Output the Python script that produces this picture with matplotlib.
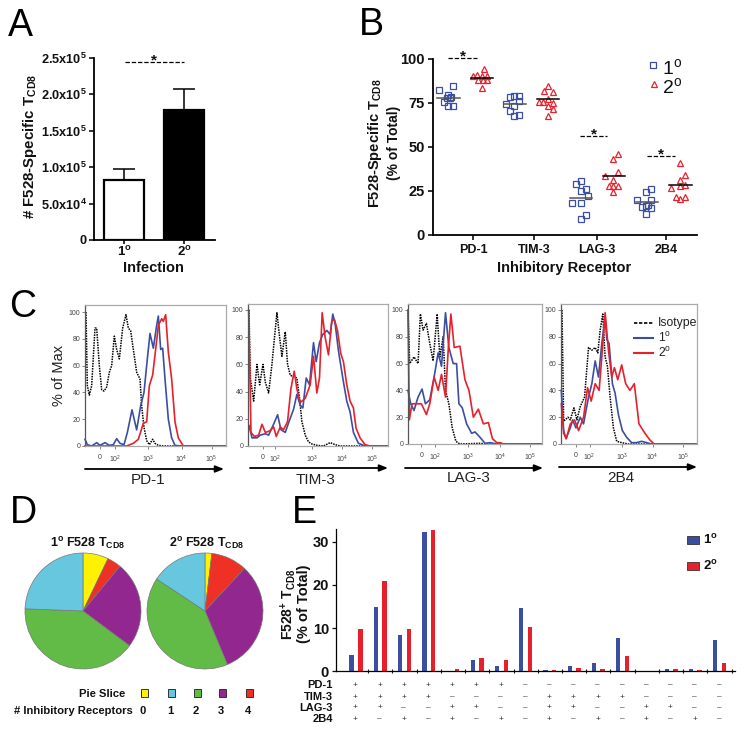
import matplotlib
matplotlib.use("Agg")
import matplotlib.pyplot as plt
from matplotlib.patches import Rectangle

plt.rcParams.update({
    'font.family': ['Liberation Sans', 'DejaVu Sans'],
    'mathtext.fontset': 'custom',
    'mathtext.rm': 'Liberation Sans',
    'mathtext.bf': 'Liberation Sans:bold',
    'mathtext.it': 'Liberation Sans',
    'mathtext.default': 'regular',
})

W, H = 745, 732
BLUE, RED = '#3B4FA2', '#E8202C'

# ---------- Panel A ----------
a_labels = ['1', '2']
a_vals = [82000, 178000]
a_errs = [15000, 30000]
a_yticks = [0, 50000, 100000, 150000, 200000, 250000]
a_yticklabels = ['0', r'$\mathbf{5.0x10^{4}}$', r'$\mathbf{1.0x10^{5}}$', r'$\mathbf{1.5x10^{5}}$',
                 r'$\mathbf{2.0x10^{5}}$', r'$\mathbf{2.5x10^{5}}$']

# ---------- Panel B ----------
b_cats = ['PD-1', 'TIM-3', 'LAG-3', '2B4']
b_tick_pos = [0.12, 1.04, 1.99, 3.04]
b_blue = [[82.2, 84.5, 79.5, 75.6, 77.5, 77.5, 73.1, 73.1, 78.4],
          [74.2, 78, 79, 79, 76.1, 73.3, 70.3, 67.4, 68],
          [30.5, 28.6, 25, 25.8, 17.8, 17.8, 11.4, 9.1, 22],
          [25.8, 24, 20, 20, 15.9, 16.3, 15, 11.6, 16.9]]
b_blue_jit = [[-28, 14, -1, -13, -6, 4, 14, -1, 6],
              [-27, -14, -1, 14, 14, -1, -14, -1, 14],
              [0, -14, 1, 15, -27, 0, 15, 0, 20],
              [13, -2, -29, 11, -15, -2, 13, -2, 3]]
b_red = [[94.1, 90.3, 90.7, 90.2, 90.2, 87.9, 87.9, 87.9, 83.5],
         [84.5, 81.8, 81.1, 75.4, 75.4, 77.3, 75, 73.1, 71.4, 67.6],
         [46, 43, 35.8, 33.3, 31, 27.8, 27.8, 27.8, 24.4],
         [40.5, 33.9, 31.2, 26.3, 27.7, 28.2, 21.6, 21.6, 20.1]]
b_red_jit = [[7, -28, -14, 1, 14, -11, 4, 16, 1],
             [0, -13, 15, -28, -15, 0, 15, 0, 15, 0],
             [11, -3, 11, -29, -3, -16, -3, 11, -3],
             [-1, 13, -1, -28, -1, 13, -14, 13, -1]]
b_blue_mean = [77.7, 74.2, 21, 18.3]
b_red_mean = [89.3, 76.9, 33.3, 28]

# ---------- Panel C (x = channel, y = % of max) ----------
c1_k = [(258,100),(262,45),(268,38),(275,45),(285,88),(290,88),(298,60),(305,42),(312,41),(320,44),(328,55),(335,60),(343,82),(350,72),(358,65),(368,88),(378,98),(385,88),(392,86),(400,72),(410,55),(420,50),(425,30),(432,14),(440,4),(448,1),(458,5),(465,2),(475,0.5),(490,0),(678,0)]
c1_b = [(255,5),(262,1),(275,0),(290,2.5),(300,0.5),(315,2.5),(328,0.5),(340,1),(350,5.5),(360,2),(372,1),(382,10),(396,27),(410,12),(422,30),(432,40),(442,65),(450,84),(460,73),(470,90),(475,97),(482,72),(488,73),(495,50),(505,20),(515,6),(525,0.5),(540,0),(678,0)]
c1_r = [(255,0),(380,0),(400,2),(415,5),(430,17),(440,18),(448,45),(458,53),(466,70),(475,90),(485,95),(490,93),(497,98),(505,70),(515,50),(525,18),(535,6),(550,0),(678,0)]
c2_k = [(746,100),(750,50),(760,33),(770,60),(778,45),(788,60),(795,47),(805,39),(815,60),(822,78),(830,98),(838,80),(845,66),(855,84),(862,60),(870,52),(880,51),(890,50),(898,35),(905,18),(915,8),(925,3),(935,1.5),(950,0.5),(970,0),(990,2.5),(1005,1),(1020,0),(1164,0)]
c2_b = [(746,15),(755,6),(770,6),(780,8),(795,9),(805,8),(820,16),(832,23),(842,12),(855,10),(865,17),(880,27),(890,38),(900,30),(908,28),(918,50),(928,45),(940,76),(948,62),(958,76),(968,82),(980,85),(990,82),(998,97),(1005,90),(1015,70),(1028,50),(1040,33),(1050,25),(1060,10),(1075,2),(1090,0.5),(1100,0),(1164,0)]
c2_r = [(745,100),(752,10),(762,7),(775,8),(785,16),(795,10),(808,11),(820,14),(828,7),(840,14),(850,12),(862,18),(872,42),(882,55),(890,42),(900,32),(915,35),(930,45),(940,66),(950,39),(958,50),(966,98),(975,80),(985,67),(995,92),(1003,93),(1012,85),(1022,68),(1030,62),(1040,45),(1050,33),(1060,28),(1068,13),(1080,6),(1095,1),(1110,0),(1164,0)]
c3_k = [(100,100),(105,60),(118,65),(130,60),(137,97),(145,85),(155,90),(165,75),(175,62),(187,97),(195,65),(205,80),(212,40),(222,30),(232,12),(243,2),(255,0),(315,0.5),(340,0),(500,0)]
c3_b = [(100,40),(108,30),(118,25),(130,35),(142,41),(152,30),(165,33),(178,50),(190,68),(200,58),(212,98),(222,72),(235,60),(245,60),(252,30),(262,27),(275,15),(290,8),(300,9),(315,5),(330,0.5),(345,1),(365,0),(500,0)]
c3_r = [(100,100),(104,18),(112,30),(125,30),(140,30),(155,22),(165,30),(178,50),(190,40),(200,52),(212,35),(220,70),(228,97),(238,72),(255,73),(270,48),(282,40),(295,20),(310,26),(325,15),(340,16),(352,4),(365,1),(375,1),(385,0),(500,0)]
c4_k = [(560,100),(565,17),(578,20),(585,18),(596,27),(605,18),(615,28),(628,35),(640,72),(650,70),(660,72),(668,68),(675,85),(683,97),(690,65),(697,58),(705,35),(715,12),(725,2),(740,1),(760,0),(967,0)]
c4_b = [(558,40),(565,10),(572,4),(585,12),(592,18),(602,12),(615,20),(625,15),(640,35),(650,45),(660,62),(670,50),(680,75),(690,95),(695,78),(702,75),(712,45),(720,38),(730,22),(742,10),(755,5),(770,1),(785,1),(800,2),(815,1),(830,0),(967,0)]
c4_r = [(558,30),(565,8),(573,4),(585,15),(598,18),(610,10),(625,20),(637,42),(648,32),(660,45),(672,40),(680,65),(690,98),(700,70),(710,50),(718,57),(728,48),(740,59),(752,45),(765,40),(778,45),(792,15),(810,8),(825,3),(838,0),(967,0)]
c_tick_labels = ['0', '$10^{2}$', '$10^{3}$', '$10^{4}$', '$10^{5}$']
c_tick_pos = [[300, 345, 445, 545, 635], [787, 825, 935, 1025, 1115],
              [140, 182, 280, 375, 465], [602, 643, 740, 833, 925]]
c_xlims = [(255, 678), (743, 1164), (100, 500), (557, 967)]
c_names = ['PD-1', 'TIM-3', 'LAG-3', '2B4']

# ---------- Panel D ----------
d_colors = ['#FFF200', '#EE3124', '#92278F', '#62BB46', '#66C7DE']
d_pie1 = [7.1, 3.9, 24.2, 40.4, 24.4]
d_pie2 = [1.9, 10.0, 31.8, 40.6, 15.7]
d_legend_colors = ['#FFF200', '#66C7DE', '#62BB46', '#92278F', '#EE3124']
d_legend_labels = ['0', '1', '2', '3', '4']

# ---------- Panel E ----------
e_blue = [3.7, 15, 8.4, 32.2, 0, 2.7, 1.3, 14.7, 0.3, 1.3, 1.9, 7.8, 0, 0.5, 0.5, 7.3]
e_red = [9.8, 20.8, 9.9, 32.8, 0.5, 3.1, 2.7, 10.3, 0.3, 0.8, 0.6, 3.5, 0, 0.5, 0.3, 1.9]
e_rows = ['PD-1', 'TIM-3', 'LAG-3', '2B4']
e_signs = ['+++++++---------',
           '++++----++++----',
           '++--++--++--++--',
           '+-+-+-+-+-+-+-+-']

fig = plt.figure(figsize=(W / 100, H / 100), dpi=100, facecolor='white')


def axpx(x0, ytop, x1, ybot, **kw):
    return fig.add_axes([x0 / W, 1 - ybot / H, (x1 - x0) / W, (ybot - ytop) / H], **kw)


ov = fig.add_axes([0, 0, 1, 1], zorder=10)
ov.set_xlim(0, W)
ov.set_ylim(H, 0)
ov.axis('off')
ov.patch.set_alpha(0)


def T(x, y, s, size=9, bold=False, ha='center', va='center', rot=0, color='#111111'):
    ov.text(x, y, s, fontsize=size, fontweight='bold' if bold else 'normal', ha=ha, va=va,
            rotation=rot, color=color, rotation_mode='anchor' if rot else 'default')


for (x, y, s) in [(8, 36, 'A'), (359, 35, 'B'), (9, 317, 'C'), (10, 523, 'D'), (292, 523, 'E')]:
    T(x, y, s, size=27, ha='left', va='baseline', color='black')


def spines_open(ax, lw=1.3):
    for s in ['top', 'right']:
        ax.spines[s].set_visible(False)
    for s in ['left', 'bottom']:
        ax.spines[s].set_linewidth(lw)
    ax.patch.set_alpha(0)


# Panel A
axA = axpx(94, 58, 215, 240)
spines_open(axA)
axA.bar([0, 1], a_vals, width=0.67, color=['white', 'black'], edgecolor='black', linewidth=1.6,
        yerr=[[0, 0], a_errs], ecolor='black', capsize=8, error_kw={'elinewidth': 1.1, 'capthick': 1.1})
axA.set_xlim(-0.5, 1.517)
axA.set_ylim(0, 250000)
axA.set_xticks([0, 1])
axA.set_xticklabels([r'$\mathbf{%s^{o}}$' % s for s in a_labels], fontsize=9.5, fontweight='bold')
axA.set_yticks(a_yticks)
axA.set_yticklabels(a_yticklabels, fontsize=9.2, fontweight='bold')
axA.tick_params(width=1.2, length=3.5, pad=1.5, colors='#111111')
axA.tick_params(axis='x', pad=0.5, length=3)
T(153, 268, 'Infection', 10.5, True)
T(30, 146, r'# F528-Specific T$\mathbf{_{CD8}}$', 10.8, True, rot=90)
ov.plot([125, 184], [62, 62], color='black', lw=0.9, ls=(0, (3.5, 1.5)))
T(154, 60, '*', 11, True)

# Panel B
axB = axpx(432.7, 58.7, 697, 234.7)
spines_open(axB)
axB.set_xlim((248 - 346) / 198, (1040 - 346) / 198)
axB.set_ylim(0, 100)
for i in range(4):
    bx = [i - 50 / 198 + j / 198 for j in b_blue_jit[i]]
    rx = [i + 50 / 198 + j / 198 for j in b_red_jit[i]]
    axB.plot(bx, b_blue[i], ls='', marker='s', ms=4.4, mfc='none', mec=BLUE, mew=0.9, clip_on=False)
    axB.plot(rx, b_red[i], ls='', marker='^', ms=5.0, mfc='none', mec=RED, mew=0.9, clip_on=False)
    axB.plot([i - 50 / 198 - 0.17, i - 50 / 198 + 0.17], [b_blue_mean[i]] * 2, color='#555555', lw=1.1)
    axB.plot([i + 50 / 198 - 0.17, i + 50 / 198 + 0.17], [b_red_mean[i]] * 2, color='black', lw=1.1)
axB.set_xticks(b_tick_pos)
axB.set_xticklabels(b_cats, fontsize=9, fontweight='bold')
axB.set_yticks([0, 25, 50, 75, 100])
axB.set_yticklabels(['0', '25', '50', '75', '100'], fontsize=10.5, fontweight='bold')
axB.tick_params(width=1.2, length=3.5, pad=2, colors='#111111')
axB.tick_params(axis='x', pad=3)
T(564, 268, 'Inhibitory Receptor', 10.5, True)
T(375, 143, r'F528-Specific T$\mathbf{_{CD8}}$', 10.5, True, rot=90)
T(394, 143, '(% of Total)', 10, True, rot=90)
for (x0, x1, y, sx) in [(448, 477, 58, 463), (580, 607, 136, 594), (647, 675, 156, 661)]:
    ov.plot([x0, x1], [y, y], color='black', lw=0.9, ls=(0, (3.5, 1.5)))
    T(sx, y - 2, '*', 11, True)
ov.plot([653], [65], ls='', marker='s', ms=4.4, mfc='none', mec=BLUE, mew=0.9)
ov.plot([654], [84], ls='', marker='^', ms=5.0, mfc='none', mec=RED, mew=0.9)
T(672, 68, '$1^{o}$', 14)
T(672, 87, '$2^{o}$', 14)

# Panel C
c_boxes = [(85, 305, 226, 446, 312), (248, 304, 388, 446, 310), (408, 304, 542, 444, 310), (561, 304, 697, 444, 310)]
c_series = [(c1_k, c1_b, c1_r), (c2_k, c2_b, c2_r), (c3_k, c3_b, c3_r), (c4_k, c4_b, c4_r)]
for i, (x0, yt, x1, yb, y100) in enumerate(c_boxes):
    ax = axpx(x0, yt, x1, yb)
    ymax = 100 * (yb - yt) / (yb - y100)
    ax.set_xlim(*c_xlims[i])
    ax.set_ylim(0, ymax)
    k, b, r = c_series[i]
    ax.plot(*zip(*k), color='black', lw=1.1, ls=(0, (1, 0.7)), clip_on=False)
    ax.plot(*zip(*b), color=BLUE, lw=1.2, clip_on=False)
    ax.plot(*zip(*r), color=RED, lw=1.2, clip_on=False)
    ax.set_xticks(c_tick_pos[i])
    ax.set_xticklabels(c_tick_labels, fontsize=5, color='#444444')
    ax.set_yticks([0, 20, 40, 60, 80, 100])
    ax.set_yticklabels(['0', '20', '40', '60', '80', '100'], fontsize=5, color='#444444')
    ax.tick_params(width=0.5, length=2, pad=1.5, color='#555555')
    ax.tick_params(axis='x', pad=3.5)
    for s in ax.spines.values():
        s.set_color('#aaaaaa')
        s.set_linewidth(0.9)
    ax.spines['left'].set_color('#555555')

for (x0, x1, y, xt, yt, s) in [(85, 224, 469, 148, 479.5, 'PD-1'), (250, 388, 468, 316, 479.5, 'TIM-3'),
                               (405, 543, 468, 469, 477.5, 'LAG-3'), (559, 697, 467, 621, 477.5, '2B4')]:
    ov.annotate('', xy=(x1, y), xytext=(x0, y),
                arrowprops=dict(arrowstyle='-|>,head_length=0.5,head_width=0.2', color='black', lw=1.3,
                                shrinkA=0, shrinkB=0))
    T(xt, yt, s, 11, color='#222222')
T(59, 375, '% of Max', 10.5, rot=90, color='#222222')
ov.plot([634, 653], [323, 323], color='black', lw=1.2, ls=(0, (2, 1)))
ov.plot([634, 653], [338, 338], color=BLUE, lw=1.5)
ov.plot([634, 653], [353, 353], color=RED, lw=1.5)
T(658, 323, 'Isotype', 8.8, ha='left', color='#222222')
T(658, 338, '$1^{o}$', 8.8, ha='left', color='#222222')
T(658, 353, '$2^{o}$', 8.8, ha='left', color='#222222')

# Panel D
for cx, vals in [(83, d_pie1), (205, d_pie2)]:
    ax = axpx(cx - 60, 611 - 60, cx + 60, 611 + 60)
    ax.pie(vals, colors=d_colors, startangle=90, counterclock=False, radius=58 / 60,
           wedgeprops={'edgecolor': '#777777', 'linewidth': 0.5})
    ax.set_xlim(-1, 1)
    ax.set_ylim(-1, 1)
T(87.5, 544, r'$\mathbf{1^{o}}$ F528 T$\mathbf{_{CD8}}$', 9, True)
T(207, 544, r'$\mathbf{2^{o}}$ F528 T$\mathbf{_{CD8}}$', 9, True)
T(125, 694, 'Pie Slice', 8.1, True, ha='right')
T(133, 711, '# Inhibitory Receptors', 8.1, True, ha='right')
for x, c, s in zip([144, 171, 197, 222, 249], d_legend_colors, d_legend_labels):
    ov.add_patch(Rectangle((x - 3.5, 689), 7, 8, facecolor=c, edgecolor='#333333', lw=0.7))
    T(x - 1, 711, s, 8.1, True)

# Panel E
axE = axpx(336, 529, 735, 671.3)
spines_open(axE, 0.9)
axE.set_xlim((168 - 228) / 72.7, (1365 - 228) / 72.7)
axE.set_ylim(0, (671.3 - 529) / 4.32)
n = len(e_blue)
axE.bar([i - 13 / 72.7 for i in range(n)], e_blue, width=0.18, color=BLUE, clip_on=False)
axE.bar([i + 13 / 72.7 for i in range(n)], e_red, width=0.18, color=RED, clip_on=False)
axE.set_xticks([i + 0.5 for i in range(n)])
axE.set_xticklabels([])
axE.set_yticks([0, 10, 20, 30])
axE.set_yticklabels(['0', '10', '20', '30'], fontsize=10.5, fontweight='bold')
axE.tick_params(axis='y', width=0.9, length=3, pad=2, colors='#111111')
axE.tick_params(axis='x', width=0.8, length=2.5, direction='inout', color='#111111')
T(288, 604, r'F528$\mathbf{^{+}}$ T$\mathbf{_{CD8}}$', 10, True, rot=90)
T(304, 604, '(% of Total)', 10.5, True, rot=90)
ov.add_patch(Rectangle((687, 536), 12, 7.5, facecolor=BLUE, edgecolor='#333333', lw=0.6))
ov.add_patch(Rectangle((687, 562), 12, 7.5, facecolor=RED, edgecolor='#333333', lw=0.6))
T(703, 539.5, r'$\mathbf{1^{o}}$', 9.5, True, ha='left')
T(703, 565.5, r'$\mathbf{2^{o}}$', 9.5, True, ha='left')
for r, (name, y) in enumerate(zip(e_rows, [685, 697, 708, 719])):
    T(333, y, name, 8, True, ha='right')
    for i, ch in enumerate(e_signs[r]):
        sx = 280 + (226 + 72.7 * i) / 3
        T(sx, y, '+' if ch == '+' else '\u2013', 6, color='#333333')

fig.savefig('out.png', dpi=100)
